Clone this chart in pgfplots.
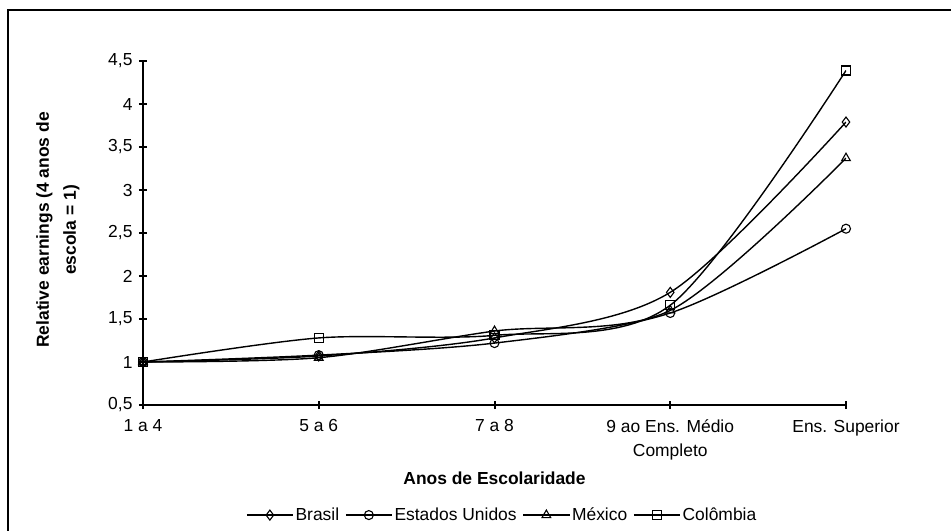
\documentclass[border=0pt]{standalone}
\usepackage{pgfplots}
\pgfplotsset{compat=1.18}
\usepackage{fontspec}
\setmainfont{Liberation Sans}
\begin{document}
\begin{tikzpicture}
\useasboundingbox (0,0) rectangle (951bp,-531bp);
\draw[line width=1.2bp] (8bp,-700bp) -- (8bp,-10bp) -- (1100bp,-10bp);
\begin{axis}[
  at={(143bp,-405bp)}, anchor=south west,
  scale only axis, width=703bp, height=344bp,
  xmin=0, xmax=4, ymin=0.5, ymax=4.5,
  axis lines=left,
  axis line style={-, line width=2bp},
  every tick/.style={black, line width=2bp},
  major tick length=8bp,
  tick align=center,
  xtick={0,1,2,3,4},
  xticklabels={1 a 4, 5 a 6, 7 a 8, {9 ao Ens. Médio\\Completo}, Ens. Superior},
  x tick label style={align=center, yshift=-7bp},
  ytick={0.5,1,...,4.5},
  /pgf/number format/use comma,
  /pgf/number format/fixed,
  /pgf/number format/precision=1,
  /pgf/number format/assume math mode=true,
  y tick label style={xshift=-3bp},
  ticklabel style={font=\fontsize{17.5}{24}\selectfont},
  xlabel={\textbf{Anos de Escolaridade}},
  xlabel style={font=\fontsize{17.5}{21}\selectfont, at={(axis description cs:0.5,-0.212)}, anchor=center},
  ylabel={\textbf{Relative earnings (4 anos de}\\\textbf{escola = 1)}},
  ylabel style={font=\fontsize{17.5}{27}\selectfont, align=center, at={(axis description cs:-0.121,0.509)}, anchor=center},
  legend columns=4,
  legend style={draw=none, at={(0.511,-0.320)}, anchor=center, font=\fontsize{17.5}{21}\selectfont,
    /tikz/every even column/.append style={column sep=4bp}},
  legend image code/.code={\draw[mark repeat=2,mark phase=2,#1] plot coordinates {(0bp,0bp) (23bp,0bp) (46bp,0bp)};},
  every axis plot/.append style={black, line width=1.4bp, smooth, tension=0.5, mark options={solid, fill=white, line width=1.1bp}},
]
\addplot[mark=diamond, mark size=5bp] coordinates {(0,1) (1,1.07) (2,1.28) (3,1.81) (4,3.79)};
\addlegendentry{Brasil}
\addplot[mark=o, mark size=4.5bp] coordinates {(0,1) (1,1.08) (2,1.22) (3,1.57) (4,2.55)};
\addlegendentry{Estados Unidos}
\addplot[mark=triangle, mark size=5bp] coordinates {(0,1) (1,1.05) (2,1.36) (3,1.60) (4,3.37)};
\addlegendentry{México}
\addplot[mark=square, mark size=4.5bp] coordinates {(0,1) (1,1.28) (2,1.31) (3,1.66) (4,4.39)};
\addlegendentry{Colômbia}
\end{axis}
\end{tikzpicture}
\end{document}
